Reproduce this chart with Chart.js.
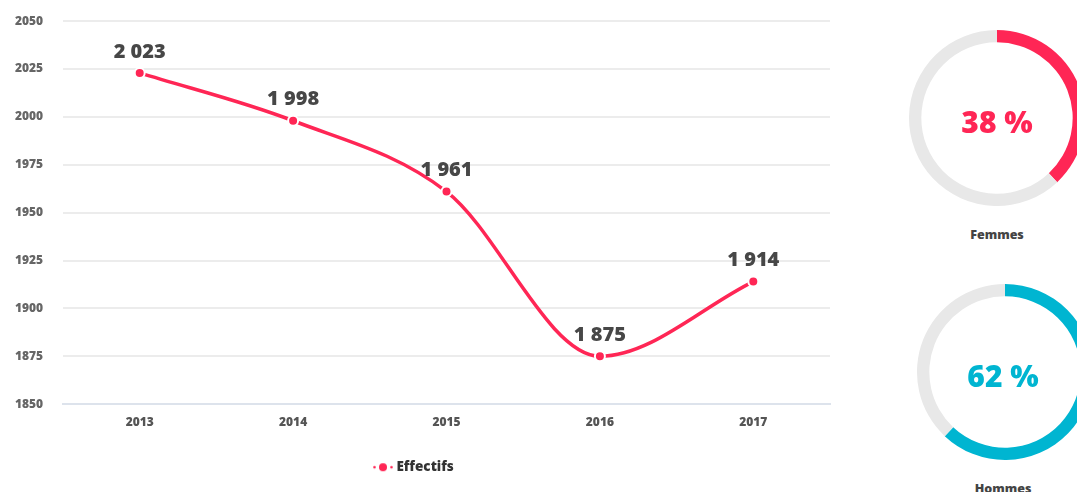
<!DOCTYPE html>
<html>
<head>
<meta charset="utf-8">
<script src="https://cdn.jsdelivr.net/npm/chart.js@4.4.0/dist/chart.umd.min.js"></script>
<style>
  html, body { margin: 0; padding: 0; background: #fff; overflow: hidden; }
  body { width: 1077px; height: 492px; position: relative; font-family: "Open Sans", sans-serif; }
  #linechart { position: absolute; left: 0; top: -6px; }
  .donut { position: absolute; }
  .pct { position: absolute; font-weight: 800; font-size: 30px; text-align: center; width: 200px; }
  .lbl { position: absolute; font-weight: 800; font-size: 12.5px; color: #444; text-align: center; width: 200px; }
</style>
</head>
<body>
<canvas id="linechart" width="860" height="498"></canvas>

<canvas id="femmes" class="donut" width="176" height="176" style="left:909px;top:30px"></canvas>
<div class="pct" style="left:897px;top:101px;color:#ff2655">38 %</div>
<div class="lbl" style="left:897px;top:226px">Femmes</div>

<canvas id="hommes" class="donut" width="176" height="176" style="left:917px;top:284px"></canvas>
<div class="pct" style="left:903px;top:355px;color:#00b5d1">62 %</div>
<div class="lbl" style="left:903px;top:480px">Hommes</div>

<script>
// données
var annees = ["2013", "2014", "2015", "2016", "2017"];
var effectifs = [2023, 1998, 1961, 1875, 1914];
var yTicks = [1850, 1875, 1900, 1925, 1950, 1975, 2000, 2025, 2050];
var femmesPct = 38;
var hommesPct = 62;

var rose = '#ff2655';
var bleu = '#00b5d1';
var grisAnneau = '#e8e8e8';

// espace comme séparateur des milliers
function formatNombre(n) {
    return String(n).replace(/\B(?=(\d{3})+(?!\d))/g, ' ');
}

// petit symbole de légende : pointillé + gros point
var legendeIcone = document.createElement('canvas');
legendeIcone.width = 22;
legendeIcone.height = 10;
(function() {
    var c = legendeIcone.getContext('2d');
    c.fillStyle = rose;
    c.beginPath(); c.arc(2.5, 5, 1.3, 0, Math.PI * 2); c.fill();
    c.beginPath(); c.arc(19.5, 5, 1.3, 0, Math.PI * 2); c.fill();
    c.beginPath();
    c.arc(11, 5, 4, 0, Math.PI * 2);
    c.fill();
})();

var etiquettes = {
    id: 'etiquettes',
    afterDatasetsDraw: function(chart) {
        var ctx = chart.ctx;
        var meta = chart.getDatasetMeta(0);
        ctx.save();
        ctx.font = '800 20px "Open Sans"';
        ctx.fillStyle = '#474747';
        ctx.textAlign = 'center';
        ctx.textBaseline = 'bottom';
        meta.data.forEach(function(pt, i) {
            ctx.fillText(formatNombre(effectifs[i]), pt.x, pt.y - 11);
        });
        ctx.restore();
    }
};

var ctx = document.getElementById("linechart").getContext("2d");
var chart = new Chart(ctx, {
    type: "line",
    data: {
        labels: annees,
        datasets: [{
            label: "Effectifs",
            data: effectifs,
            borderColor: rose,
            backgroundColor: rose,
            borderWidth: 3.5,
            cubicInterpolationMode: 'monotone',
            pointRadius: 5,
            pointBackgroundColor: rose,
            pointBorderColor: '#fff',
            pointBorderWidth: 2,
            pointStyle: 'circle'
        }]
    },
    options: {
        responsive: false,
        animation: false,
        layout: { padding: { top: 14, right: 30, bottom: 8, left: 0 } },
        plugins: {
            tooltip: { enabled: false },
            legend: {
                position: 'bottom',
                labels: {
                    usePointStyle: true,
                    pointStyle: legendeIcone,
                    color: '#333',
                    font: { family: 'Open Sans', size: 13.5, weight: '800' },
                    padding: 20
                }
            }
        },
        scales: {
            x: {
                offset: true,
                grid: { display: false, drawTicks: false },
                border: { color: '#dde3ec', width: 2 },
                ticks: {
                    color: '#555',
                    font: { family: 'Open Sans', size: 12, weight: '800' },
                    padding: 11
                }
            },
            y: {
                min: 1850,
                max: 2050,
                afterBuildTicks: function(axis) {
                    axis.ticks = yTicks.map(function(v) { return { value: v }; });
                },
                afterFit: function(axis) { axis.width = 63; },
                grid: { color: '#ececec', lineWidth: 2, drawTicks: false },
                border: { display: false },
                ticks: {
                    color: '#666',
                    font: { family: 'Open Sans', size: 12, weight: '800' },
                    padding: 20,
                    callback: function(v) { return String(v); }
                }
            }
        }
    },
    plugins: [etiquettes]
});

function creerAnneau(id, pct, couleur) {
    new Chart(document.getElementById(id).getContext('2d'), {
        type: 'doughnut',
        data: {
            datasets: [{
                data: [pct, 100 - pct],
                backgroundColor: [couleur, grisAnneau],
                borderWidth: 0
            }]
        },
        options: {
            responsive: false,
            animation: false,
            cutout: '86%',
            plugins: { legend: { display: false }, tooltip: { enabled: false } }
        }
    });
}
creerAnneau('femmes', femmesPct, rose);
creerAnneau('hommes', hommesPct, bleu);
</script>
</body>
</html>
